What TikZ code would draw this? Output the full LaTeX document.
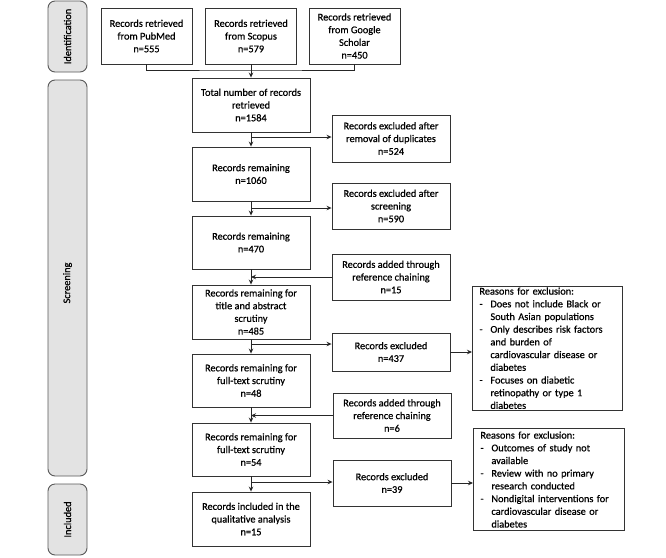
\documentclass[tikz,border=0pt]{standalone}
\usepackage{fontspec}
\setmainfont{Carlito}[FakeBold=0.6]
\usetikzlibrary{arrows.meta}
\newcommand\dashitem{\makebox[11pt][l]{-}}
\newcommand\inditem{\hspace*{11pt}}
\begin{document}
\begin{tikzpicture}[x=1pt,y=-1pt,
  box/.style={draw=black!80, line width=0.9pt, fill=white, align=center, inner sep=0pt,
    font=\fontsize{10.3}{12.7}\selectfont},
  rbox/.style={draw=black!80, line width=0.9pt, fill=white, align=left, anchor=north west,
    inner xsep=7pt, inner ysep=1pt, font=\fontsize{10.3}{12.7}\selectfont},
  phase/.style={draw=black!65, line width=0.9pt, fill=black!11, rounded corners=7pt,
    inner sep=0pt, rotate=90, minimum height=39pt, font=\fontsize{10.3}{12}\selectfont},
  arr/.style={line width=0.9pt, draw=black!85, -{Stealth[length=5pt,width=4.5pt]}},
  ln/.style={line width=0.9pt, draw=black!85}]
\useasboundingbox (0,0) rectangle (666,557);
\fill[white] (0,0) rectangle (666,557);

% phase bars
\node[phase, minimum width=71pt] (idb) at (67.5,36.5) {Identification};
\node[phase, minimum width=396pt] (scb) at (67.5,278) {\raisebox{0pt}{\hspace*{-10pt}Screening}};
\node[phase, minimum width=71pt] (inb) at (67.5,519.5) {Included};

% identification
\node[box, minimum width=91pt, minimum height=56pt] (pub) at (146.5,36) {Records retrieved\\from PubMed\\n=555};
\node[box, minimum width=91pt, minimum height=56pt] (sco) at (251,36) {Records retrieved\\from Scopus\\n=579};
\node[box, minimum width=91pt, minimum height=56pt] (goo) at (354.5,36) {Records retrieved\\from Google\\Scholar\\n=450};

% main column
\node[box, minimum width=118pt, minimum height=54pt] (tot) at (251,105) {Total number of records\\retrieved\\n=1584};
\node[box, minimum width=118pt, minimum height=54pt] (r1060) at (251,174) {Records remaining\\n=1060};
\node[box, minimum width=118pt, minimum height=53pt] (r470) at (251,242.5) {Records remaining\\n=470};
\node[box, minimum width=118pt, minimum height=54pt] (r485) at (251,312) {Records remaining for\\title and abstract\\scrutiny\\n=485};
\node[box, minimum width=118pt, minimum height=53pt] (r48) at (251,380.5) {Records remaining for\\full-text scrutiny\\n=48};
\node[box, minimum width=118pt, minimum height=53pt] (r54) at (251,449.5) {Records remaining for\\full-text scrutiny\\n=54};
\node[box, minimum width=118pt, minimum height=54pt] (inc) at (251,519) {Records included in the\\qualitative analysis\\n=15};

% side column
\node[box, minimum width=118pt, minimum height=47pt] (ex1) at (391,138.5) {Records excluded after\\removal of duplicates\\n=524};
\node[box, minimum width=118pt, minimum height=46pt] (ex2) at (391,206) {Records excluded after\\screening\\n=590};
\node[box, minimum width=118pt, minimum height=46pt] (ad15) at (391,277) {Records added through\\reference chaining\\n=15};
\node[box, minimum width=118pt, minimum height=38pt] (ex437) at (391,352) {Records excluded\\n=437};
\node[box, minimum width=118pt, minimum height=45pt] (ad6) at (392,415.5) {Records added through\\reference chaining\\n=6};
\node[box, minimum width=118pt, minimum height=46pt] (ex39) at (392,483) {Records excluded\\n=39};

% reasons
\node[rbox, text width=136pt] (rs1) at (472,286) {Reasons for exclusion:\\
\dashitem Does not include Black or\\
\inditem South Asian populations\\
\dashitem Only describes risk factors\\
\inditem and burden of\\
\inditem cardiovascular disease or\\
\inditem diabetes\\
\dashitem Focuses on diabetic\\
\inditem retinopathy or type 1\\
\inditem diabetes};
\node[rbox, text width=137pt, inner ysep=3pt] (rs2) at (473,428) {Reasons for exclusion:\\
\dashitem Outcomes of study not\\
\inditem available\\
\dashitem Review with no primary\\
\inditem research conducted\\
\dashitem Nondigital interventions for\\
\inditem cardiovascular disease or\\
\inditem diabetes};

% coordinates
\coordinate (jn) at (251,70);
\coordinate (b1) at (251,137);
\coordinate (b2) at (251,208);
\coordinate (m3) at (251,277);
\coordinate (b4) at (251,344);
\coordinate (m5) at (251,415.5);
\coordinate (b6) at (251,482);

% connectors
\draw[ln] (pub.south) |- (jn) -| (goo.south);
\draw[arr] (sco.south) -- (tot.north);
\draw[arr] (tot.south) -- (r1060.north);
\draw[arr] (b1) -- (b1 -| ex1.west);
\draw[arr] (r1060.south) -- (r470.north);
\draw[arr] (b2) -- (b2 -| ex2.west);
\draw[arr] (r470.south) -- (r485.north);
\draw[arr] (ad15.west) -- (m3);
\draw[arr] (r485.south) -- (r48.north);
\draw[arr] (b4) -- (b4 -| ex437.west);
\draw[arr] (ex437.east) -- (ex437.east -| rs1.west);
\draw[arr] (r48.south) -- (r54.north);
\draw[arr] (ad6.west) -- (m5);
\draw[arr] (r54.south) -- (inc.north);
\draw[arr] (b6) -- (b6 -| ex39.west);
\draw[arr] (ex39.east) -- (ex39.east -| rs2.west);
\end{tikzpicture}
\end{document}
